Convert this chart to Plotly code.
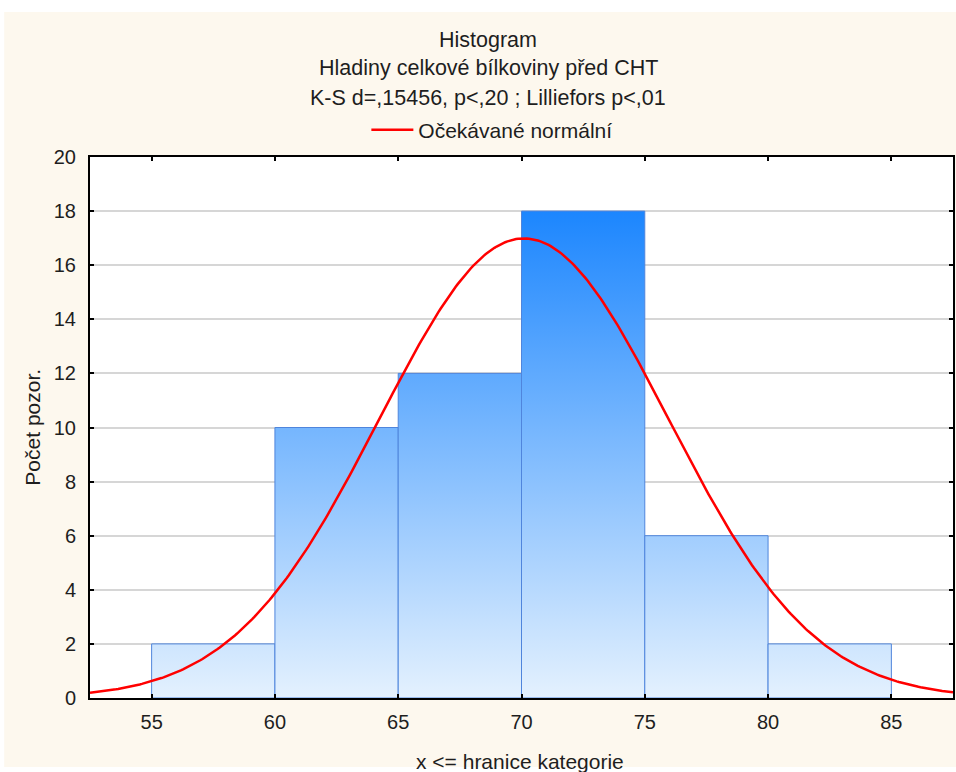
import numpy as np
import plotly.graph_objects as go

# Histogram bins (upper class limits) and observed counts
bin_edges = [55, 60, 65, 70, 75, 80, 85]
counts = [2, 10, 12, 18, 6, 2]

# Fitted normal distribution parameters
n_obs = sum(counts)
mean_val = 70.1
sd_val = 5.87
bin_width = 5

x_ticks = [55, 60, 65, 70, 75, 80, 85]
y_ticks = list(range(0, 21, 2))

title_lines = [
    "Histogram",
    "Hladiny celkové bílkoviny před CHT",
    "K-S d=,15456, p<,20 ; Lilliefors p<,01",
]
legend_name = "Očekávané normální"
x_title = "x <= hranice kategorie"
y_title = "Počet pozor."

FONT = "Arial, Liberation Sans, sans-serif"
TXT = "#1e1e1e"
CREAM = "#fdf8ee"

fig = go.Figure()

# Bars as filled polygons so they share one vertical gradient scaled to the counts
grad_scale = [[0, "#e4f1fe"], [1, "#1c86fe"]]
for lo, hi, c in zip(bin_edges[:-1], bin_edges[1:], counts):
    fig.add_trace(go.Scatter(
        x=[lo, lo, hi, hi, lo],
        y=[0, c, c, 0, 0],
        mode="lines",
        fill="toself",
        fillgradient=dict(type="vertical", colorscale=grad_scale,
                          start=0, stop=max(counts)),
        line=dict(color="#4f85dc", width=1),
        showlegend=False,
        hoverinfo="skip",
    ))

# Expected normal curve scaled to counts per bin
xs = np.linspace(52.5, 87.5, 400)
ys = n_obs * bin_width / (sd_val * np.sqrt(2 * np.pi)) * np.exp(-0.5 * ((xs - mean_val) / sd_val) ** 2)
fig.add_trace(go.Scatter(
    x=xs, y=ys, mode="lines",
    line=dict(color="#ff0000", width=2.5),
    name=legend_name, showlegend=True,
))

# Plot area geometry in pixels (for positioning text in paper units)
W, H = 956, 772
L, R, T, B = 90, 1, 157, 74
pw, ph = W - L - R, H - T - B


def px_x(p):
    return (p - L) / pw


def px_y(p):
    return (H - B - p) / ph


annotations = []
for text, ypix in zip(title_lines, [40, 68, 98]):
    annotations.append(dict(
        text=text, xref="paper", yref="paper",
        x=px_x(489), y=px_y(ypix), xanchor="center", yanchor="middle",
        showarrow=False, font=dict(family=FONT, size=21.5, color=TXT),
    ))
annotations.append(dict(
    text=x_title, xref="paper", yref="paper",
    x=px_x(521), y=px_y(761), xanchor="center", yanchor="middle",
    showarrow=False, font=dict(family=FONT, size=21, color=TXT),
))
annotations.append(dict(
    text=y_title, xref="paper", yref="paper",
    x=px_x(32), y=0.5, xanchor="center", yanchor="middle", textangle=-90,
    showarrow=False, font=dict(family=FONT, size=21, color=TXT),
))

shapes = [
    # cream panel behind the chart
    dict(type="rect", xref="paper", yref="paper", layer="below",
         x0=px_x(4), x1=px_x(W + 5), y0=px_y(767), y1=px_y(12),
         fillcolor=CREAM, line=dict(width=0)),
    # white plotting area
    dict(type="rect", xref="paper", yref="paper", layer="below",
         x0=0, x1=1, y0=0, y1=1, fillcolor="white", line=dict(width=0)),
]

axis_common = dict(
    showline=True, linecolor="black", linewidth=2, mirror="ticks",
    ticks="inside", ticklen=4, tickwidth=2, tickcolor="black",
    tickfont=dict(family=FONT, size=20, color=TXT),
    zeroline=False,
)

fig.update_layout(
    width=W, height=H,
    margin=dict(l=L, r=R, t=T, b=B),
    paper_bgcolor="white",
    plot_bgcolor="white",
    showlegend=True,
    legend=dict(
        orientation="h", xref="paper", yref="paper",
        x=px_x(367), y=px_y(130), xanchor="left", yanchor="middle",
        bgcolor="rgba(0,0,0,0)", font=dict(family=FONT, size=21, color=TXT),
        itemwidth=42,
    ),
    xaxis=dict(
        range=[52.5, 87.5], tickvals=x_ticks, showgrid=False,
        ticklabelstandoff=5, **axis_common,
    ),
    yaxis=dict(
        range=[0, 20], tickvals=y_ticks, showgrid=True,
        gridcolor="#d6d6d6", gridwidth=1.5,
        ticklabelstandoff=8, **axis_common,
    ),
    annotations=annotations,
    shapes=shapes,
)

fig.write_html("out.html")
